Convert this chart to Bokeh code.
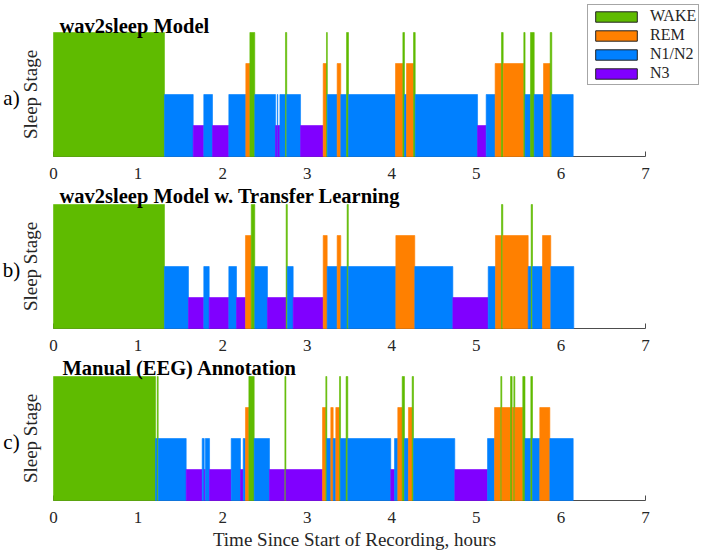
import math
from bokeh.plotting import figure
from bokeh.models import ColumnDataSource, Label, Legend, LegendItem, FixedTicker, Range1d
from bokeh.layouts import column
from bokeh.embed import file_html
from bokeh.resources import INLINE
from bokeh.transform import factor_cmap

# ---------------- data ----------------
stages = ["WAKE", "REM", "N1/N2", "N3"]
stage_levels = [4, 3, 2, 1]
stage_colors = ["#5FBB00", "#FF8000", "#0080FF", "#8000FF"]
x_ticks = [0, 1, 2, 3, 4, 5, 6, 7]

titles = ["wav2sleep Model",
          "wav2sleep Model w. Transfer Learning",
          "Manual (EEG) Annotation"]
panel_tags = ["a)", "b)", "c)"]
y_label = "Sleep Stage"
x_label = "Time Since Start of Recording, hours"

# hypnogram a) : segment boundaries (hours) and stage of each segment
a_edges = [0, 1.312, 1.652, 1.777, 1.880, 2.073, 2.274, 2.322, 2.380, 2.625, 2.645,
           2.652, 2.677, 2.743, 2.758, 2.921, 3.189, 3.228, 3.238, 3.354, 3.397,
           3.465, 3.488, 4.044, 4.131, 4.150, 4.174, 4.257, 4.277, 5.014, 5.116,
           5.222, 5.297, 5.317, 5.561, 5.576, 5.640, 5.684, 5.794, 5.873, 5.892, 6.145]
a_stages = ["WAKE", "N1/N2", "N3", "N1/N2", "N3", "N1/N2", "REM", "WAKE", "N1/N2", "N3",
            "N1/N2", "N3", "N1/N2", "WAKE", "N1/N2", "N3", "REM", "WAKE", "N1/N2", "REM",
            "N1/N2", "WAKE", "N1/N2", "REM", "WAKE", "N1/N2", "REM", "WAKE", "N1/N2", "N3",
            "N1/N2", "REM", "WAKE", "REM", "WAKE", "N1/N2", "WAKE", "N1/N2", "REM", "WAKE",
            "N1/N2"]

# hypnogram b)
b_edges = [0, 1.312, 1.596, 1.777, 1.841, 2.073, 2.164, 2.270, 2.338, 2.380, 2.530,
           2.751, 2.765, 2.834, 3.189, 3.236, 3.354, 3.397, 3.472, 3.486, 4.048,
           4.272, 4.722, 5.140, 5.226, 5.297, 5.313, 5.613, 5.648, 5.664, 5.782,
           5.880, 6.152]
b_stages = ["WAKE", "N1/N2", "N3", "N1/N2", "N3", "N1/N2", "N3", "REM", "WAKE", "N1/N2",
            "N3", "WAKE", "N1/N2", "N3", "REM", "N1/N2", "REM", "N1/N2", "WAKE", "N1/N2",
            "REM", "N1/N2", "N3", "N1/N2", "REM", "WAKE", "REM", "N1/N2", "WAKE", "N1/N2",
            "REM", "N1/N2"]

# hypnogram c)
c_edges = [0, 1.206, 1.226, 1.238, 1.569, 1.758, 1.782, 1.795, 1.845, 2.101, 2.211,
           2.243, 2.270, 2.310, 2.373, 2.554, 2.736, 2.748, 3.181, 3.220, 3.232,
           3.279, 3.307, 3.338, 3.382, 3.394, 3.460, 3.480, 3.988, 4.032, 4.071,
           4.123, 4.150, 4.197, 4.241, 4.257, 4.745, 5.132, 5.215, 5.289, 5.301,
           5.404, 5.423, 5.443, 5.455, 5.549, 5.575, 5.644, 5.664, 5.750, 5.869, 6.145]
c_stages = ["WAKE", "N1/N2", "WAKE", "N1/N2", "N3", "N1/N2", "N3", "N1/N2", "N3", "N1/N2",
            "N3", "N1/N2", "REM", "WAKE", "N1/N2", "N3", "WAKE", "N3", "REM", "WAKE",
            "N1/N2", "REM", "N1/N2", "REM", "WAKE", "N1/N2", "WAKE", "N1/N2", "N3", "N1/N2",
            "REM", "WAKE", "N1/N2", "REM", "WAKE", "N1/N2", "N3", "N1/N2", "REM", "WAKE",
            "REM", "WAKE", "REM", "WAKE", "REM", "WAKE", "N1/N2", "WAKE", "N1/N2", "REM",
            "N1/N2"]

SERIF = "Liberation Serif"
level_of = dict(zip(stages, stage_levels))

PX_PER_HOUR = 592 / 7.0   # plotted 0..7 h spans 592 px
PX_PER_LEVEL = 31.0       # one sleep-stage level is 31 px tall
LEFT_PX = 53              # space left of t = 0
FIG_W = 708


def make_panel(edges, seq, title, tag, top_px, bottom_px, title_dx, title_gap, with_xlabel):
    frame_h = top_px + 124
    p = figure(frame_width=FIG_W, frame_height=frame_h,
               x_range=Range1d(-LEFT_PX / PX_PER_HOUR, (FIG_W - LEFT_PX) / PX_PER_HOUR),
               y_range=Range1d(0, frame_h / PX_PER_LEVEL),
               output_backend="svg", toolbar_location=None,
               min_border_left=0, min_border_right=0,
               min_border_top=0, min_border_bottom=bottom_px)
    p.yaxis.visible = False
    p.grid.visible = False
    p.outline_line_color = None
    p.background_fill_color = "white"

    src = ColumnDataSource(dict(
        left=edges[:-1], right=edges[1:],
        top=[level_of[s] for s in seq], bottom=[0] * len(seq), stage=seq))
    cmap = factor_cmap("stage", stage_colors, stages)
    p.quad(left="left", right="right", top="top", bottom="bottom", source=src,
           fill_color=cmap, line_color=cmap, line_width=0.6, level="annotation")

    ax = p.xaxis[0]
    ax.bounds = (0, 7)
    ax.ticker = FixedTicker(ticks=x_ticks)
    ax.major_tick_in = 5
    ax.major_tick_out = 0
    ax.minor_tick_line_color = None
    ax.axis_line_color = "#4d4d4d"
    ax.major_tick_line_color = "#4d4d4d"
    ax.major_label_text_font = SERIF
    ax.major_label_text_font_size = "17px"
    ax.major_label_text_color = "#262626"
    ax.major_label_standoff = 11
    if with_xlabel:
        ax.axis_label = x_label
        ax.axis_label_text_font = SERIF
        ax.axis_label_text_font_size = "19px"
        ax.axis_label_text_font_style = "normal"
        ax.axis_label_text_color = "#262626"
        ax.axis_label_standoff = 3

    # title centred title_gap px above the top (WAKE) level
    p.add_layout(Label(x=0, y=4 + title_gap / PX_PER_LEVEL, x_offset=title_dx, text=title,
                       text_font=SERIF, text_font_style="bold",
                       text_font_size="20.5px", text_color="black",
                       text_baseline="middle", text_align="left", level="overlay"))
    p.add_layout(Label(x=-23 / PX_PER_HOUR, y=2, text=y_label, angle=math.pi / 2,
                       text_font=SERIF, text_font_size="19px", text_color="#262626",
                       text_baseline="middle", text_align="center", level="overlay"))
    p.add_layout(Label(x=-42 / PX_PER_HOUR, y=1.9, text=tag,
                       text_font=SERIF, text_font_size="21px", text_color="black",
                       text_baseline="middle", text_align="center", level="overlay"))
    return p


pa = make_panel(a_edges, a_stages, titles[0], panel_tags[0], 32, 28, 6, 7, False)
pb = make_panel(b_edges, b_stages, titles[1], panel_tags[1], 20, 28, 6, 9, False)
pc = make_panel(c_edges, c_stages, titles[2], panel_tags[2], 20, 53, 9, 9, True)

# legend on the top panel (proxy swatches with no visible extent)
nan = float("nan")
items = []
for s, col in zip(stages, stage_colors):
    r = pa.quad(left=[nan], right=[nan], top=[nan], bottom=[nan], fill_color=col,
                line_color="#222222", line_width=1)
    items.append(LegendItem(label=s, renderers=[r]))
leg = Legend(items=items, location=(587, 71),
             glyph_width=52, glyph_height=13, label_height=13,
             spacing=1, padding=2, margin=0, label_standoff=8,
             label_text_font=SERIF, label_text_font_size="16px",
             label_text_color="#262626",
             border_line_color="#4d4d4d", border_line_width=1,
             background_fill_color="white", background_fill_alpha=1)
pa.add_layout(leg)

layout = column(pa, pb, pc, spacing=0)
open("out.html", "w").write(file_html(layout, INLINE))
